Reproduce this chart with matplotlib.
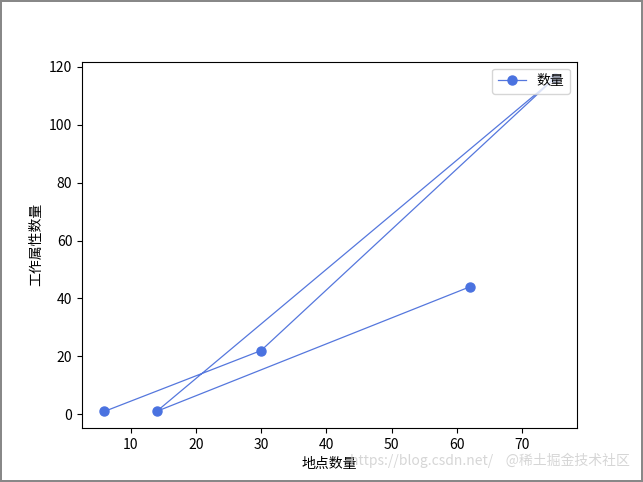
import matplotlib
matplotlib.use("Agg")
import matplotlib.pyplot as plt

plt.rcParams['font.family'] = ['Noto Sans CJK SC', 'DejaVu Sans']
plt.rcParams['axes.unicode_minus'] = False

place_counts = [6, 30, 75, 14, 62]
attr_counts = [1, 22, 116, 1, 44]
series_label = "数量"
x_label = "地点数量"
y_label = "工作属性数量"

fig = plt.figure(figsize=(6.43, 4.82), dpi=100, edgecolor='#888888', linewidth=1.5)
ax = fig.add_axes([0.1275, 0.112, 0.770, 0.760])
line, = ax.plot(place_counts, attr_counts, color='#5577dd', linewidth=0.9,
                marker='o', markersize=6.5, markerfacecolor='#4a72e0',
                markeredgecolor='#4a72e0', label=series_label)
ax.set_xlabel(x_label, fontsize=10)
ax.set_ylabel(y_label, fontsize=10)
ax.set_yticks([0, 20, 40, 60, 80, 100, 120])
ax.legend(loc='upper right', fontsize=10)

fig.text(0.98, 0.03, "https://blog.csdn.net/    @稀土掘金技术社区", ha='right', va='bottom',
         fontsize=10, color='#cccccc', alpha=0.8)

fig.savefig("out.png", dpi=100, edgecolor=fig.get_edgecolor())
